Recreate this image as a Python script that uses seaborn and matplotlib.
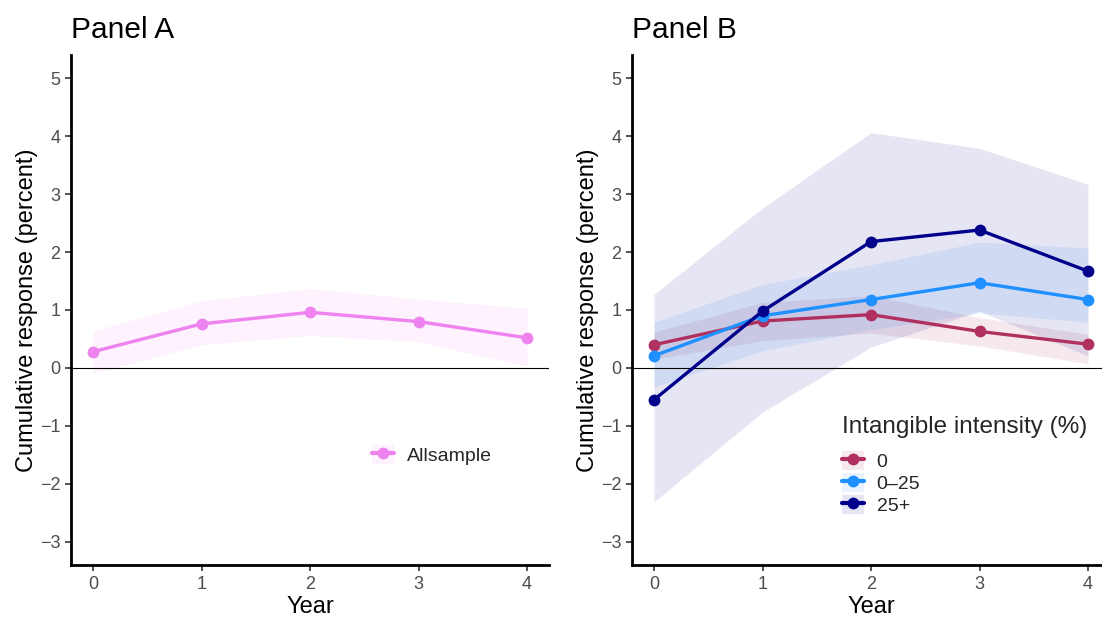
import numpy as np
import pandas as pd
import matplotlib
matplotlib.use("Agg")
import matplotlib.pyplot as plt
from matplotlib.lines import Line2D
from matplotlib.patches import Patch
import seaborn as sns

# ---- data ----
years = [0, 1, 2, 3, 4]

# Panel A: full sample
all_est = [0.28, 0.76, 0.96, 0.80, 0.52]
all_lo = [-0.09, 0.40, 0.56, 0.45, 0.03]
all_hi = [0.64, 1.16, 1.37, 1.19, 1.03]

# Panel B: by intangible intensity group
groups = ["0", "0\u201325", "25+"]
g0_est = [0.40, 0.81, 0.92, 0.63, 0.41]
g0_lo = [0.15, 0.47, 0.60, 0.38, 0.07]
g0_hi = [0.62, 1.13, 1.25, 0.87, 0.58]
g1_est = [0.21, 0.90, 1.18, 1.47, 1.18]
g1_lo = [-0.33, 0.30, 0.66, 0.95, 0.79]
g1_hi = [0.79, 1.44, 1.78, 2.17, 2.07]
g2_est = [-0.55, 0.98, 2.18, 2.38, 1.67]
g2_lo = [-2.31, -0.76, 0.36, 0.98, 0.21]
g2_hi = [1.27, 2.76, 4.06, 3.79, 3.17]

colors = {"Allsample": "#EE82EE", "0": "#B03060", "0\u201325": "#1E90FF", "25+": "#00008B"}

sns.set_theme(style="white")
plt.rcParams["font.family"] = ["Liberation Sans", "DejaVu Sans"]

dfA = pd.DataFrame({"Year": years, "est": all_est, "lo": all_lo, "hi": all_hi,
                    "group": "Allsample"})
dfB = pd.concat([
    pd.DataFrame({"Year": years, "est": e, "lo": l, "hi": h, "group": g})
    for g, e, l, h in [(groups[0], g0_est, g0_lo, g0_hi),
                       (groups[1], g1_est, g1_lo, g1_hi),
                       (groups[2], g2_est, g2_lo, g2_hi)]
], ignore_index=True)

W, H = 1102, 617
fig = plt.figure(figsize=(W / 100, H / 100), dpi=100)
axA = fig.add_axes([71.3 / W, (H - 565) / H, 477.4 / W, 510 / H])
axB = fig.add_axes([632.3 / W, (H - 565) / H, 477.4 / W, 510 / H])

band_alpha = 0.10
LW = 2.4
MS = 8.5


def draw_panel(ax, df, order, title):
    for g in order:
        sub = df[df["group"] == g]
        ax.fill_between(sub["Year"], sub["lo"], sub["hi"], color=colors[g],
                        alpha=band_alpha, linewidth=0, zorder=1)
    ax.axhline(0, color="black", linewidth=0.8, zorder=2)
    sns.lineplot(data=df, x="Year", y="est", hue="group", hue_order=order,
                 palette=colors, marker="o", markersize=MS, markeredgewidth=0,
                 linewidth=LW, errorbar=None, legend=False, ax=ax, zorder=3)
    ax.set_xlim(-0.2, 4.2)
    ax.set_ylim(-3.4, 5.4)
    ax.set_xticks(years)
    ax.set_yticks([-3, -2, -1, 0, 1, 2, 3, 4, 5])
    ax.tick_params(axis="both", which="both", length=4, width=1.2, color="#333333",
                   labelsize=13, labelcolor="#4D4D4D", pad=4, left=True, bottom=True)
    for s in ["top", "right"]:
        ax.spines[s].set_visible(False)
    for s in ["left", "bottom"]:
        ax.spines[s].set_color("black")
        ax.spines[s].set_linewidth(2.0)
    ax.set_xlabel("Year", fontsize=17, color="black", labelpad=2)
    ax.set_ylabel("Cumulative response (percent)", fontsize=17, color="black", labelpad=1)
    ax.set_title(title, loc="left", fontsize=21.5, color="black", pad=12)


def legend_handles(order):
    hs = []
    for g in order:
        box = Patch(facecolor=colors[g], alpha=band_alpha, edgecolor="none")
        ln = Line2D([], [], color=colors[g], linewidth=LW + 0.6, marker="o",
                    markersize=MS, markeredgewidth=0)
        hs.append((box, ln))
    return hs


draw_panel(axA, dfA, ["Allsample"], "Panel A")
draw_panel(axB, dfB, groups, "Panel B")

legA = axA.legend(legend_handles(["Allsample"]), ["Allsample"], loc="center left",
                  bbox_to_anchor=(0.609, 0.216), frameon=False, fontsize=14,
                  borderpad=0, handlelength=1.15, handleheight=1.15, handletextpad=0.65)
legB = axB.legend(legend_handles(groups), groups, title="Intangible intensity (%)",
                  loc="upper left", bbox_to_anchor=(0.418, 0.312), frameon=False,
                  fontsize=14, title_fontsize=17.5, borderpad=0, handlelength=1.15,
                  handleheight=1.1, handletextpad=0.65, labelspacing=0.1,
                  alignment="left")
# extra room between the legend title and its entries
legB._legend_box.sep = 10

fig.savefig("out.png", dpi=100)
